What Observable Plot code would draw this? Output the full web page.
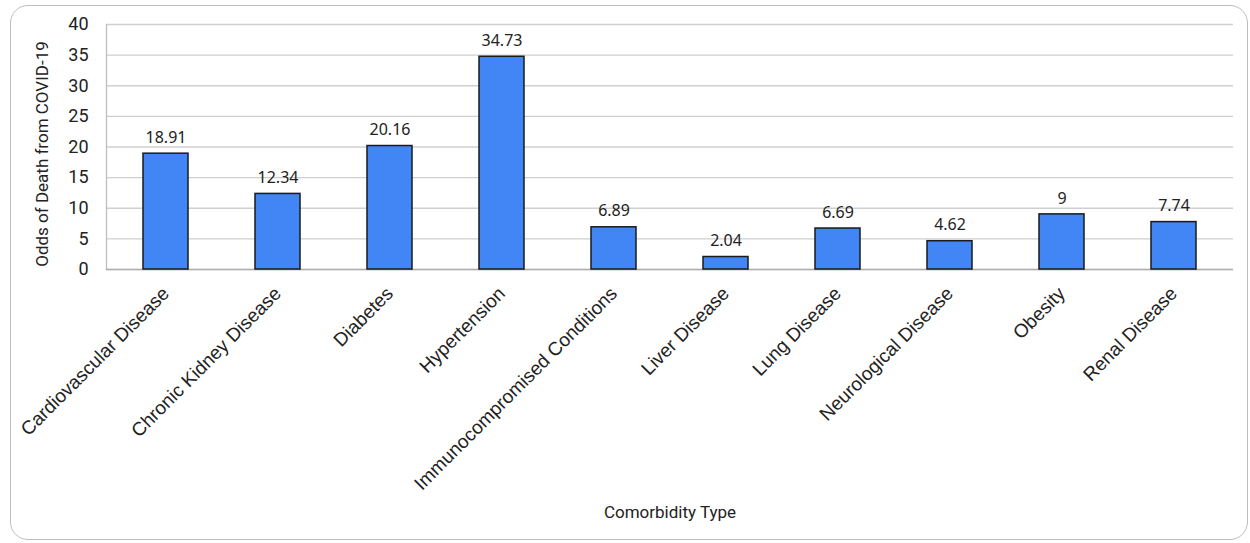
<!DOCTYPE html>
<html>
<head>
<meta charset="utf-8">
<script src="https://cdn.jsdelivr.net/npm/d3@7"></script>
<script src="https://cdn.jsdelivr.net/npm/@observablehq/plot@0.6"></script>
<style>
  body { margin: 0; background: #fff; }
  #wrap { position: relative; width: 1250px; height: 543px; }
  #border { position: absolute; left: 10px; top: 5px; width: 1236px; height: 533px;
            border: 1.5px solid #bdbdbd; border-radius: 18px; pointer-events: none; }
</style>
</head>
<body>
<div id="wrap"><div id="border"></div></div>
<script>
const categories = ["Cardiovascular Disease", "Chronic Kidney Disease", "Diabetes", "Hypertension",
  "Immunocompromised Conditions", "Liver Disease", "Lung Disease", "Neurological Disease", "Obesity", "Renal Disease"];
const values = [18.91, 12.34, 20.16, 34.73, 6.89, 2.04, 6.69, 4.62, 9, 7.74];
const yTicks = [0, 5, 10, 15, 20, 25, 30, 35, 40];
const yLabel = "Odds of Death from COVID-19";
const xLabel = "Comorbidity Type";

const data = categories.map((c, i) => ({category: c, value: values[i]}));

const chart = Plot.plot({
  width: 1250,
  height: 543,
  marginLeft: 106,
  marginRight: 17,
  marginTop: 24,
  marginBottom: 274,
  x: {domain: categories, paddingInner: 0.6, paddingOuter: 0.3, label: null},
  y: {domain: [0, 40], ticks: yTicks, label: null},
  style: {background: "transparent"},
  marks: [
    Plot.gridY(yTicks, {stroke: "#cfcfcf", strokeOpacity: 1, strokeWidth: 1.3}),
    Plot.frame({anchor: "left", stroke: "#bdbdbd", strokeWidth: 1.3}),
    Plot.ruleY([0], {stroke: "#b0b0b0", strokeWidth: 1.5}),
    Plot.barY(data, {x: "category", y: "value", fill: "#4285F4", stroke: "#1a1a1a", strokeWidth: 1.5}),
    Plot.text(data, {x: "category", y: "value", text: d => String(d.value), dy: -16,
      fontFamily: "Noto Sans", fontSize: 16, fill: "#222"}),
    Plot.axisY({ticks: yTicks, tickSize: 0, tickPadding: 18, fontSize: 18, fontFamily: "Roboto", fill: "#222"}),
    Plot.axisX({tickSize: 0, tickPadding: 21, tickRotate: -45, fontSize: 19, fontFamily: "Liberation Sans", fill: "#222", label: null}),
    Plot.text([yLabel], {frameAnchor: "left", textAnchor: "middle", dx: -64, dy: 7, rotate: -90, fontSize: 17, fontFamily: "Roboto", fill: "#222"}),
    Plot.text([xLabel], {frameAnchor: "bottom", dy: 248, fontSize: 17, fontFamily: "Roboto", fill: "#222"})
  ]
});
document.getElementById("wrap").prepend(chart);
</script>
</body>
</html>
